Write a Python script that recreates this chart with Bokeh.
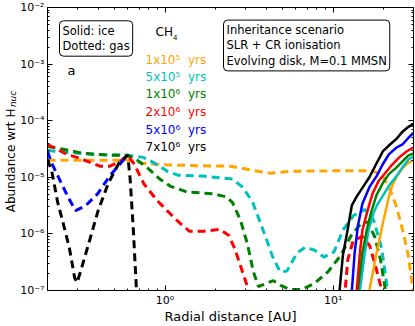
import math
from bokeh.plotting import figure
from bokeh.models import Range1d, LogAxis, FixedTicker, CustomJSTickFormatter, Label
from bokeh.embed import file_html
from bokeh.resources import INLINE

# ---------------- data ----------------
times = ["1x10\u2075\u00a0 yrs", "5x10\u2075\u00a0 yrs", "1x10\u2076\u00a0 yrs",
         "2x10\u2076\u00a0 yrs", "5x10\u2076\u00a0 yrs", "7x10\u2076\u00a0 yrs"]
colors = ["#FFA500", "#00BFBF", "#008000", "#FF0000", "#0000FF", "#000000"]

# gas (dashed)
r_gas_1e5 = [0.2, 0.33, 0.6, 0.74, 1.0, 1.68, 2.45, 3.31, 4.2, 5.7, 9.8, 16.9, 19.4, 21.7, 23.8, 26.2, 28.0, 29.7, 30.0]
a_gas_1e5 = [2.0e-5, 2.0e-5, 2.0e-5, 1.77e-5, 1.66e-5, 1.6e-5, 1.57e-5, 1.33e-5, 1.18e-5, 1.28e-5, 1.3e-5, 1.3e-5,
             1.14e-5, 6.2e-6, 3.0e-6, 1.0e-6, 4.0e-7, 1.1e-7, 8e-8]

r_gas_5e5 = [0.2, 0.264, 0.376, 0.6, 0.74, 0.85, 1.03, 1.19, 1.68, 2.52, 2.89, 3.31, 3.9, 4.34, 4.83, 5.3, 6.1, 6.8,
             7.7, 8.8, 10.1, 11.4, 13.2, 15.4, 17.4, 19.4, 21.0, 21.5]
a_gas_5e5 = [2.98e-5, 2.75e-5, 2.54e-5, 2.45e-5, 2.25e-5, 1.84e-5, 1.28e-5, 1.09e-5, 1.05e-5, 9.3e-6, 6.7e-6, 3.7e-6,
             1.0e-6, 4.1e-7, 2.14e-7, 2.2e-7, 4.6e-7, 5.8e-7, 5.2e-7, 3.9e-7, 4.8e-7, 1.16e-6, 2.1e-6, 2.7e-6, 1.73e-6,
             5.6e-7, 1.05e-7, 1e-8]

r_gas_1e6 = [0.2, 0.24, 0.328, 0.493, 0.6, 0.683, 0.78, 0.93, 1.07, 1.35, 1.95, 2.32, 2.52, 2.81, 3.09, 3.35, 3.59,
             3.95, 4.4, 4.9, 5.5, 6.5, 7.7, 9.3, 11.1, 12.7, 14.8, 16.0, 17.6, 19.1, 20.4, 20.8]
a_gas_1e6 = [3.5e-5, 3.2e-5, 2.64e-5, 2.44e-5, 2.45e-5, 2.0e-5, 1.5e-5, 9.3e-6, 7.0e-6, 5.5e-6, 5.1e-6, 4.5e-6,
             3.56e-6, 1.73e-6, 6.6e-7, 2.14e-7, 1.17e-7, 1.32e-7, 1.49e-7, 1.22e-7, 1.04e-7, 1.04e-7, 1.32e-7, 2.14e-7,
             4.2e-7, 9.1e-7, 1.6e-6, 1.6e-6, 9.1e-7, 3.5e-7, 1.04e-7, 1e-8]

r_gas_2e6 = [0.2, 0.23, 0.264, 0.30, 0.346, 0.41, 0.47, 0.54, 0.6, 0.656, 0.75, 0.90, 1.07, 1.23, 1.40, 1.70, 2.11,
             2.39, 2.59, 2.81, 3.13, 3.3, 11.5, 11.8, 12.2, 13.1, 14.8, 16.5, 18.1, 19.4, 19.8]
a_gas_2e6 = [3.8e-5, 3.1e-5, 2.5e-5, 2.25e-5, 1.91e-5, 1.57e-5, 1.57e-5, 1.91e-5, 2.45e-5, 1.7e-5, 7.6e-6, 3.85e-6,
             2.29e-6, 1.53e-6, 1.11e-6, 1.11e-6, 1.2e-6, 9.5e-7, 5.6e-7, 2.73e-7, 1.03e-7, 1e-8, 1e-8, 1.1e-7, 3.5e-7,
             7.4e-7, 9.1e-7, 6.1e-7, 2.3e-7, 1.03e-7, 1e-8]

# beyond its peak the 5x10^6 yr gas curve is hidden under the 7x10^6 yr one
r_gas_5e6 = [0.2, 0.212, 0.24, 0.268, 0.294, 0.337, 0.397, 0.473, 0.55, 0.6]
a_gas_5e6 = [2.86e-5, 1.77e-5, 8.2e-6, 4.2e-6, 2.58e-6, 3.15e-6, 5.1e-6, 1.09e-5, 1.84e-5, 2.45e-5]

r_gas_7e6 = [0.2, 0.212, 0.23, 0.25, 0.27, 0.29, 0.30, 0.319, 0.356, 0.40, 0.46, 0.535, 0.6, 0.62, 0.647, 0.674, 0.69]
a_gas_7e6 = [2.07e-5, 1.28e-5, 3.6e-6, 1.4e-6, 5.6e-7, 1.68e-7, 1.38e-7, 2.5e-7, 7.7e-7, 2.58e-6, 7.9e-6, 1.84e-5,
             2.45e-5, 9.3e-6, 1.25e-6, 1.22e-7, 1e-8]

# ice (solid)
r_ice_1e5 = [16.1, 16.4, 18.1, 19.7, 21.4, 22.5, 24.1, 25.8, 27.6, 30.0]
a_ice_1e5 = [5e-8, 1e-7, 4.6e-7, 1.53e-6, 4.5e-6, 7.3e-6, 1.09e-5, 1.45e-5, 1.77e-5, 2.0e-5]

r_ice_5e5 = [14.2, 14.4, 15.4, 16.2, 17.4, 18.4, 19.7, 21.4, 23.8, 25.8, 28.0, 30.0]
a_ice_5e5 = [5e-8, 1e-7, 4.6e-7, 1.16e-6, 2.38e-6, 3.4e-6, 4.7e-6, 7.0e-6, 1.05e-5, 1.5e-5, 2.07e-5, 2.34e-5]

r_ice_1e6 = [13.8, 14.0, 14.9, 15.8, 16.9, 18.1, 19.7, 21.4, 23.8, 25.8, 28.0, 30.0]
a_ice_1e6 = [5e-8, 1e-7, 4.6e-7, 1.16e-6, 2.58e-6, 4.9e-6, 7.9e-6, 1.14e-5, 1.5e-5, 1.91e-5, 2.44e-5, 2.64e-5]

r_ice_2e6 = [13.6, 13.8, 14.4, 14.9, 16.0, 17.1, 18.6, 20.8, 22.5, 24.7, 27.3, 29.2, 30.0]
a_ice_2e6 = [5e-8, 1e-7, 4.6e-7, 1.16e-6, 2.58e-6, 5.1e-6, 8.6e-6, 1.28e-5, 1.7e-5, 2.25e-5, 2.86e-5, 3.23e-5, 3.36e-5]

r_ice_5e6 = [12.7, 12.9, 13.4, 14.0, 14.9, 16.4, 18.1, 19.7, 21.4, 23.8, 25.8, 28.0, 30.0]
a_ice_5e6 = [5e-8, 1e-7, 4.6e-7, 1.36e-6, 3.4e-6, 6.7e-6, 1.05e-5, 1.7e-5, 2.54e-5, 3.36e-5, 3.8e-5, 5.0e-5, 6.1e-5]

r_ice_7e6 = [10.8, 10.9, 11.4, 12.1, 12.9, 13.8, 14.9, 16.4, 18.1, 19.7, 21.4, 23.8, 25.8, 28.0, 30.0]
a_ice_7e6 = [5e-8, 1e-7, 4.1e-7, 1.07e-6, 3.2e-6, 4.6e-6, 6.5e-6, 1.0e-5, 1.77e-5, 2.86e-5, 3.64e-5, 4.8e-5, 6.4e-5,
             7.8e-5, 8.8e-5]

x_tick_values = [1.0, 10.0]
x_tick_labels = ["10\u2070", "10\u00b9"]
y_tick_values = [1e-7, 1e-6, 1e-5, 1e-4, 1e-3, 1e-2]
y_tick_labels = ["10\u207b\u2077", "10\u207b\u2076", "10\u207b\u2075", "10\u207b\u2074", "10\u207b\u00b3", "10\u207b\u00b2"]

X_MIN, X_MAX = 0.2, 30.0
Y_MIN, Y_MAX = 1e-7, 1e-2

gas = [(r_gas_1e5, a_gas_1e5), (r_gas_5e5, a_gas_5e5), (r_gas_1e6, a_gas_1e6),
       (r_gas_2e6, a_gas_2e6), (r_gas_5e6, a_gas_5e6), (r_gas_7e6, a_gas_7e6)]
ice = [(r_ice_1e5, a_ice_1e5), (r_ice_5e5, a_ice_5e5), (r_ice_1e6, a_ice_1e6),
       (r_ice_2e6, a_ice_2e6), (r_ice_5e6, a_ice_5e6), (r_ice_7e6, a_ice_7e6)]

# ---------------- figure ----------------
FONT = "DejaVu Sans"
W, H = 415, 326   # Bokeh's page template has no body margin, so the figure fills the window
NB = "\u00a0"

p = figure(width=W, height=H, x_axis_type="log", y_axis_type="log",
           x_range=Range1d(X_MIN, X_MAX), y_range=Range1d(Y_MIN, Y_MAX),
           output_backend="svg", toolbar_location=None,
           min_border_left=44, min_border_right=2, min_border_top=7, min_border_bottom=0)
p.xgrid.visible = False
p.ygrid.visible = False
p.outline_line_color = "black"
p.background_fill_color = "white"
p.border_fill_color = "white"

x_minor = [m * 10 ** e for e in (-1, 0, 1) for m in range(2, 10) if X_MIN <= m * 10 ** e <= X_MAX]
y_minor = [m * 10.0 ** e for e in range(-7, -2) for m in range(2, 10)]
xt = FixedTicker(ticks=x_tick_values, minor_ticks=x_minor)
yt = FixedTicker(ticks=y_tick_values, minor_ticks=y_minor)

fmt_code = """
const i = vals.findIndex(v => Math.abs(Math.log10(v) - Math.log10(tick)) < 1e-6);
return i >= 0 ? labs[i] : "";
"""
xf = CustomJSTickFormatter(args=dict(vals=x_tick_values, labs=x_tick_labels), code=fmt_code)
yf = CustomJSTickFormatter(args=dict(vals=y_tick_values, labs=y_tick_labels), code=fmt_code)
empty = CustomJSTickFormatter(code="return '';")


def style_axis(ax, labels=True):
    ax.axis_line_color = "black"
    ax.major_tick_line_color = "black"
    ax.minor_tick_line_color = "black"
    ax.major_tick_in = 5
    ax.major_tick_out = 0
    ax.minor_tick_in = 2
    ax.minor_tick_out = 0
    ax.major_label_text_font = FONT
    ax.major_label_text_color = "black"
    if labels:
        ax.major_label_text_font_size = "11px"
    else:
        ax.major_label_text_font_size = "0px"
        ax.major_label_standoff = 0


def style_label(ax, size, style="normal"):
    ax.axis_label_text_font = FONT
    ax.axis_label_text_font_size = size
    ax.axis_label_text_font_style = style
    ax.axis_label_text_color = "black"


xa = p.xaxis[0]
xa.ticker = xt
xa.formatter = xf
style_axis(xa)
xa.major_label_standoff = 3
xa.axis_label = "Radial distance [AU]"
style_label(xa, "13px")
xa.axis_label_standoff = -1

# inner left axis: tick labels + subscript "nuc"
ya = p.yaxis[0]
ya.ticker = yt
ya.formatter = yf
style_axis(ya)
ya.major_label_standoff = 3
ya.axis_label = NB * 35 + "nuc"
style_label(ya, "9px", "italic")
ya.axis_label_standoff = -1

# outer left axis: only carries the main label text
ya2 = LogAxis(ticker=FixedTicker(ticks=[], minor_ticks=[]), formatter=empty)
style_axis(ya2, labels=False)
ya2.axis_line_color = None
ya2.major_tick_line_color = None
ya2.minor_tick_line_color = None
ya2.axis_label = "Abundance wrt H" + NB * 6
style_label(ya2, "12px")
ya2.axis_label_standoff = -12
p.add_layout(ya2, "left")

top = LogAxis(ticker=xt, formatter=empty)
style_axis(top, labels=False)
p.add_layout(top, "above")
right = LogAxis(ticker=yt, formatter=empty)
style_axis(right, labels=False)
p.add_layout(right, "right")

# curves: gas dashed, then ice solid
for (r, a), c in zip(gas, colors):
    p.line(r, a, line_color=c, line_width=3, line_dash="8 5")
for (r, a), c in zip(ice, colors):
    p.line(r, a, line_color=c, line_width=2.5)


# ---------------- text (pixel offsets from a frame corner) ----------------
def lab(text, dx, dy, corner="left", size="12px", color="black", align="left", baseline="middle", **kw):
    x0 = X_MIN if corner == "left" else X_MAX
    p.add_layout(Label(x=x0, y=Y_MAX, x_offset=dx, y_offset=-dy, text=text, text_font=FONT,
                       text_font_size=size, text_color=color, text_align=align,
                       text_baseline=baseline, **kw))


box = dict(background_fill_color="white", border_line_color="black", border_line_width=1,
           padding=3, border_radius=4, text_line_height=1.1)
lab("Solid: ice\nDotted: gas", 12, 31, size="11.5px", **box)
lab("Inheritance scenario\nSLR + CR ionisation\nEvolving disk, M=0.1 MMSN", -190, 38, corner="right",
    size="11.5px", **box)

lab("CH", 108, 24, size="12px")
lab("4", 125.5, 29, size="7px")
lab("a", 20, 63, size="13px")

rows = [52, 69.5, 86.5, 104, 122, 139]
for t, c, dy in zip(times, colors, rows):
    lab(t, 98, dy, size="12px", color=c)

open("out.html", "w").write(file_html(p, INLINE))
